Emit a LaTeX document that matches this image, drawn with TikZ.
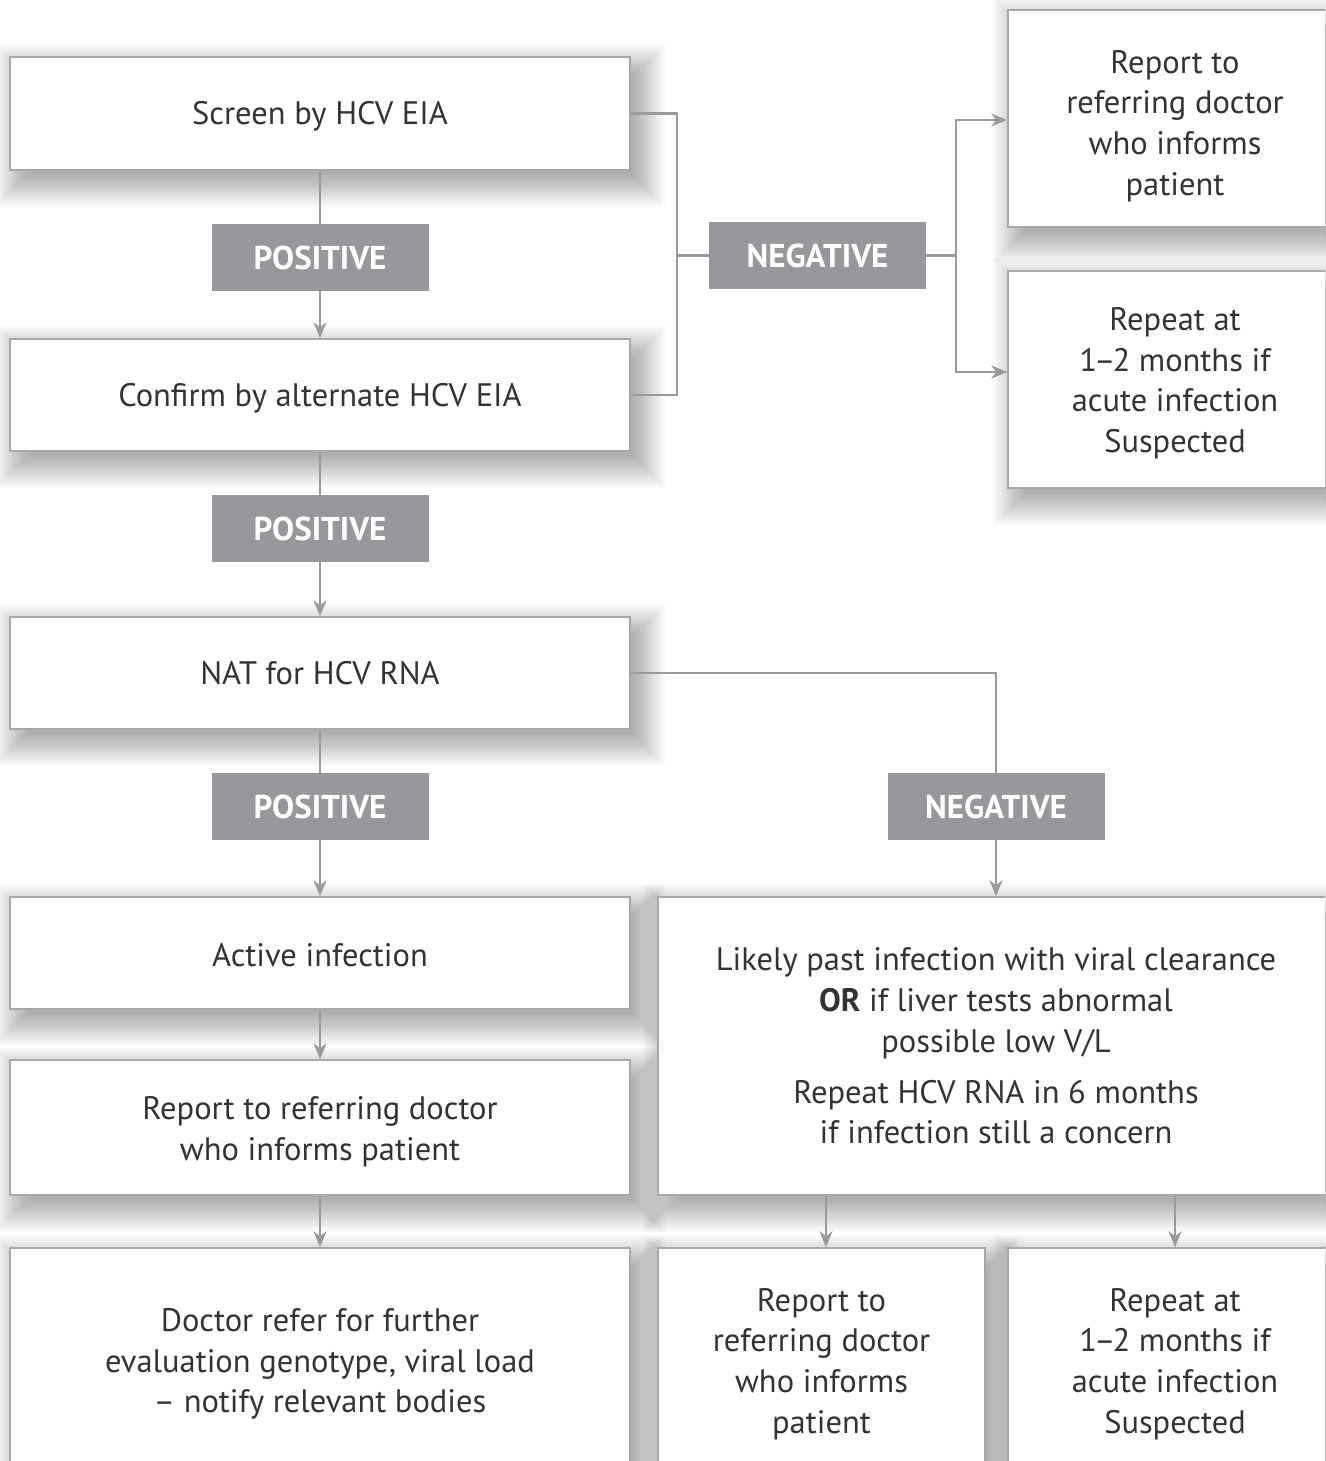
\documentclass[tikz,border=0pt]{standalone}
\usepackage{fontspec}
\setmainfont{PT Sans}
\usetikzlibrary{arrows.meta,calc}
\definecolor{txt}{HTML}{333333}
\definecolor{lab}{HTML}{97989B}
\definecolor{ln}{HTML}{9A9A9C}
\definecolor{bd}{HTML}{A8A8A8}
\newcommand\dn[2]{\raisebox{0pt}[\dimexpr\height+#1\relax]{\begin{tabular}{@{}c@{}}#2\end{tabular}}}
\newcommand\ndash{\kern-3pt–\kern-3pt}
\pgfdeclarelayer{back}
\pgfdeclarelayer{shade}
\pgfsetlayers{back,shade,main}
\begin{document}
\begin{tikzpicture}[x=1pt,y=-1pt,
 box/.style={draw=bd, line width=1.5pt, fill=white, align=center, text=txt,
   font=\fontsize{32.5}{40.7}\selectfont, inner sep=0pt},
 lbl/.style={fill=lab, draw=none, text=white, font=\bfseries\fontsize{33}{36}\selectfont,
   minimum width=217pt, minimum height=67pt, inner sep=0pt},
 conn/.style={draw=ln, line width=2.2pt},
 arr/.style={conn, -{Stealth[length=16pt,width=13pt,inset=5pt]}},
 shadelayer/.style={fill=black, opacity=0.021}]
\begin{pgfonlayer}{back}
\fill[white] (0,0) rectangle (1325,1461);
\end{pgfonlayer}
\useasboundingbox (0,0) rectangle (1325,1461);
\clip (0,0) rectangle (1325,1461);

% left column
\node[box, minimum width=620pt, minimum height=113pt] (b1) at (320,113.5) {\dn{6pt}{Screen by HCV EIA}};
\node[box, minimum width=620pt, minimum height=112pt] (b2) at (320,395) {\dn{6pt}{Confirm by alternate HCV EIA}};
\node[box, minimum width=620pt, minimum height=112pt] (b3) at (320,673) {NAT for HCV RNA};
\node[box, minimum width=620pt, minimum height=112pt] (act) at (320,953) {\dn{10pt}{Active infection}};
\node[box, minimum width=620pt, minimum height=135pt] (rep) at (320,1127.5) {\dn{8pt}{Report to referring doctor\\who informs patient}};
\node[box, minimum width=620pt, minimum height=232pt] (doc) at (320,1364) {Doctor refer for further\\evaluation genotype, viral load\\– notify relevant bodies};

% right column
\node[box, minimum width=334pt, minimum height=217pt] (tr1) at (1175,118.5) {\dn{15pt}{Report to\\referring doctor\\who informs\\patient}};
\node[box, minimum width=334pt, minimum height=217pt] (tr2) at (1175,379.5) {\dn{8pt}{Repeat at\\1\ndash2 months if\\acute infection\\Suspected}};
\node[box, minimum width=676pt, minimum height=298pt] (lik) at (996,1046) {Likely past infection with viral clearance\\\textbf{OR} if liver tests abnormal\\possible low V/L\\[10pt]Repeat HCV RNA in 6 months\\if infection still a concern};
\node[box, minimum width=327pt, minimum height=232pt] (brep) at (821.5,1364) {Report to\\referring doctor\\who informs\\patient};
\node[box, minimum width=334pt, minimum height=232pt] (brpt) at (1175,1364) {Repeat at\\1\ndash2 months if\\acute infection\\Suspected};

% soft drop shadows
\begin{pgfonlayer}{shade}
\foreach \n in {b1,b2,b3,act,rep,doc,tr1,tr2,lik,brep,brpt}{
  \foreach \k in {0,...,16}{
    \pgfmathsetmacro{\e}{-8+2*\k}
    \fill[shadelayer] ($(\n.north west)+(10-\e,12-\e)$) rectangle ($(\n.south east)+(10+\e,12+\e)$);
  }
}
\end{pgfonlayer}

% labels
\node[lbl] (pos1) at (320,257.5) {POSITIVE};
\node[lbl] (pos2) at (320,528.5) {POSITIVE};
\node[lbl] (pos3) at (320,806.5) {POSITIVE};
\node[lbl] (neg1) at (817.5,255.5) {NEGATIVE};
\node[lbl] (neg2) at (996,806.5) {NEGATIVE};

% connectors
\draw[conn] (b1) -- (pos1);
\draw[arr] (pos1) -- (b2);
\draw[conn] (b2) -- (pos2);
\draw[arr] (pos2) -- (b3);
\draw[conn] (b3) -- (pos3);
\draw[arr] (pos3) -- (act);
\draw[arr] (act) -- (rep);
\draw[arr] (rep) -- (doc);

\coordinate (jl) at (677,255.5);
\draw[conn] (b1.east) -| (jl) |- (b2.east);
\draw[conn] (jl) -- (neg1.west);
\coordinate (jr) at (956,255.5);
\draw[conn] (neg1.east) -- (jr);
\draw[arr] (jr) |- ([yshift=-1.5pt]tr1.west);
\draw[arr] (jr) |- ([yshift=7.5pt]tr2.west);

\draw[conn] (b3.east) -| (neg2);
\draw[arr] (neg2) -- (lik);
\coordinate (lx) at (826,0);
\draw[arr] (lik.south -| lx) -- (brep.north -| lx);
\draw[arr] (lik.south -| brpt) -- (brpt);
\end{tikzpicture}
\end{document}
